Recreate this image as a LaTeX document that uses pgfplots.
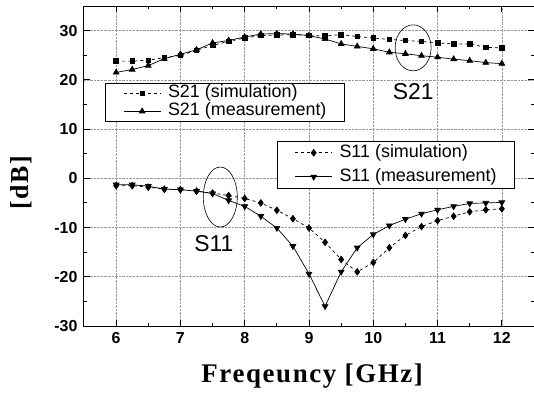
\documentclass[border=0pt]{standalone}
\usepackage{fontspec}
\setmainfont{Liberation Sans}
\newfontfamily\labelfont[LetterSpace=6]{Liberation Serif}
\usepackage{pgfplots}
\pgfplotsset{compat=1.18}

% S-parameters versus frequency (GHz, dB)
\pgfplotstableread{
f    s21sim s21meas s11sim s11meas
6.00 23.8   21.5    -1.5   -1.3
6.25 23.8   22.1    -1.5   -1.3
6.50 24.0   22.9    -1.8   -1.6
6.75 24.5   24.3    -2.2   -2.2
7.00 25.0   25.2    -2.3   -2.3
7.25 26.0   26.1    -2.6   -2.6
7.50 27.0   27.5    -3.0   -3.1
7.75 27.8   28.0    -3.5   -4.5
8.00 28.5   28.7    -4.1   -5.7
8.25 29.0   29.3    -5.0   -7.7
8.50 29.1   29.4    -6.5   -10.1
8.75 29.2   29.3    -8.2   -13.8
9.00 29.0   29.0    -10.1  -19.4
9.25 28.9   28.3    -13.0  -26.0
9.50 29.2   27.3    -16.5  -19.0
9.75 28.8   26.8    -19.0  -14.1
10.00 28.5  26.3    -17.1  -11.4
10.25 28.2  25.6    -14.1  -9.6
10.50 28.0  25.3    -11.6  -8.3
10.75 27.8  24.9    -9.8   -7.2
11.00 27.5  24.6    -8.6   -6.4
11.25 27.3  24.2    -7.7   -5.7
11.50 27.3  23.9    -6.8   -5.1
11.75 26.6  23.5    -6.4   -5.0
12.00 26.5  23.3    -6.2   -4.9
}\sdata

\pgfplotsset{
  frame/.style={
    at={(0,0)}, anchor=south west, scale only axis,
    width=450bp, height=320bp,
    xmin=5.5, xmax=12.5, ymin=-30, ymax=35,
  },
  sample/.style={
    legend image code/.code={
      \draw[mark repeat=2,mark phase=2,##1]
        plot coordinates {(0bp,0bp) (18.5bp,0bp) (37bp,0bp)};}
  },
  leg/.style={
    legend cell align=left,
    legend style={draw=black, line width=0.6bp, fill=white,
      font=\fontsize{18}{20}\selectfont, column sep=7bp,
      nodes={inner sep=0bp, text height=13bp, text depth=4bp},
      inner xsep=18bp, inner ysep=1.5bp},
  },
}

\begin{document}
\begin{tikzpicture}
\useasboundingbox (-84bp,-70bp) rectangle (450bp,326bp);

\begin{axis}[frame, leg, sample,
  xtick={6,...,12}, ytick={-30,-20,...,30},
  minor x tick num=1, minor y tick num=1,
  tick align=inside, major tick length=6bp, minor tick length=3bp,
  axis line style={line width=1bp}, tick style={line width=0.9bp, black},
  grid=major, grid style={densely dotted, gray!80, line width=0.6bp},
  tick label style={font=\fontsize{16}{16}\selectfont\bfseries},
  /pgf/number format/assume math mode=true,
  xticklabel style={yshift=-3bp},
  yticklabel style={xshift=-3bp},
  xlabel={\labelfont\fontsize{27}{27}\selectfont\bfseries Freqeuncy [GHz]},
  ylabel={\labelfont\fontsize{26}{26}\selectfont\bfseries [dB]},
  xlabel style={at={(axis description cs:0.507,-0.156)}, anchor=center},
  ylabel style={at={(axis description cs:-0.14,0.447)}, anchor=center},
  legend style={at={(axis cs:5.827,19.36)}, anchor=north west, row sep=1bp},
]
\addplot[black, line width=0.7bp, dashed, mark=square*, mark size=2.3bp,
  mark options={solid}] table[x=f, y=s21sim] {\sdata};
\addlegendentry{S21 (simulation)}
\addplot[black, line width=0.7bp, mark=triangle*, mark size=3.3bp,
  mark options={solid}] table[x=f, y=s21meas] {\sdata};
\addlegendentry{S21 (measurement)}

\draw[line width=0.6bp] (axis cs:10.62,26.5) ellipse [x radius=18bp, y radius=23bp];
\draw[line width=0.6bp] (axis cs:7.62,-3.8) ellipse [x radius=17bp, y radius=30bp];
\node[font=\fontsize{23}{23}\selectfont] at (axis cs:10.62,17.6) {S21};
\node[font=\fontsize{23}{23}\selectfont] at (axis cs:7.52,-13.2) {S11};
\end{axis}

\begin{axis}[frame, leg, sample, hide axis,
  legend style={at={(axis cs:12.204,7.58)}, anchor=north east, row sep=7bp,
    inner ysep=3bp},
]
\addplot[black, line width=0.7bp, dashed, mark=diamond*, mark size=3.3bp,
  mark options={solid}] table[x=f, y=s11sim] {\sdata};
\addlegendentry{S11 (simulation)}
\addplot[black, line width=0.7bp, mark=triangle*, mark size=3.3bp,
  mark options={solid, rotate=180}] table[x=f, y=s11meas] {\sdata};
\addlegendentry{S11 (measurement)}
\end{axis}
\end{tikzpicture}
\end{document}
